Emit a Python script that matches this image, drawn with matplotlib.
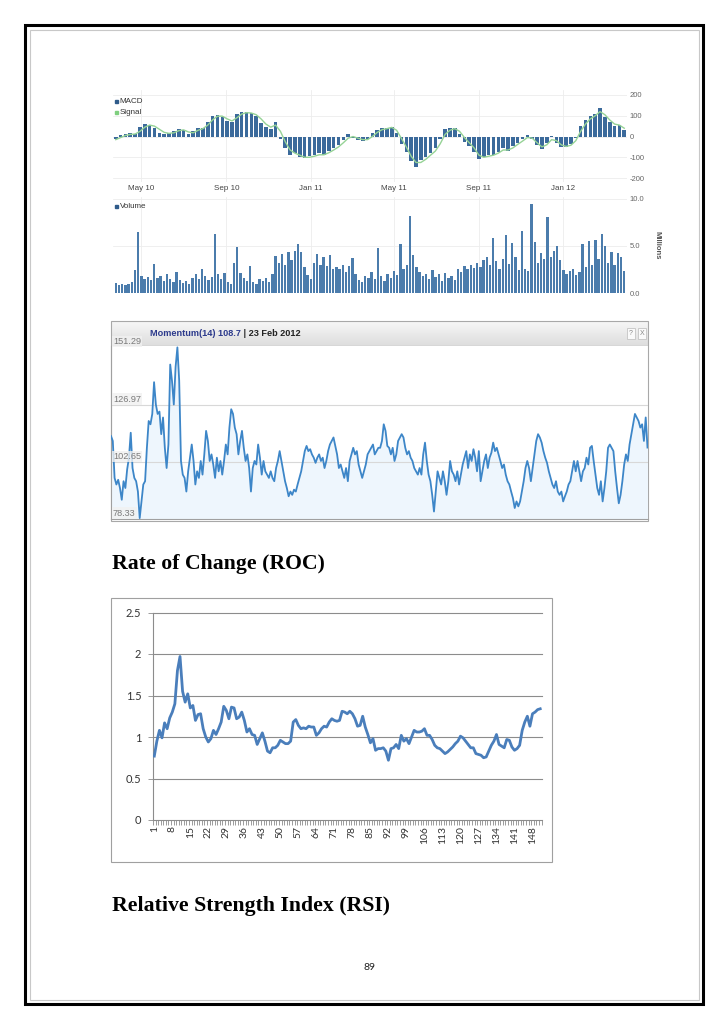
import matplotlib
matplotlib.use('Agg')
import matplotlib.pyplot as plt
import matplotlib.dates as mdates
from matplotlib.patches import Rectangle
import numpy as np
import pandas as pd

# ---------------- data ----------------
macd = [-10, 5, 12, 15, 12, 45, 60, 55, 40, 15,
        10, 15, 25, 35, 30, 10, 25, 40, 40, 70,
        100, 105, 95, 75, 70, 110, 118, 117, 112, 100,
        65, 45, 35, 70, -10, -55, -90, -80, -100, -105,
        -95, -90, -80, -90, -70, -55, -40, -15, 10, -5,
        -15, -20, -12, 15, 30, 40, 40, 48, 15, -35,
        -75, -120, -145, -115, -100, -80, -55, -10, 35, 40,
        40, 10, -25, -45, -75, -110, -100, -90, -90, -75,
        -55, -70, -45, -30, -12, 5, -10, -40, -62, -30,
        2, -30, -50, -50, -38, -5, 50, 80, 100, 110,
        135, 95, 70, 50, 55, 30]
signal = [-15, -5, 5, 10, 12, 25, 45, 55, 50, 35,
          20, 15, 18, 28, 32, 22, 18, 30, 38, 55,
          80, 98, 98, 85, 75, 90, 108, 115, 113, 105,
          85, 60, 45, 55, 25, -25, -65, -80, -90, -100,
          -100, -95, -88, -88, -78, -65, -50, -30, -8, 0,
          -8, -15, -15, 0, 20, 33, 38, 44, 30, -10,
          -50, -95, -125, -125, -110, -90, -70, -35, 10, 30,
          38, 25, -5, -30, -55, -90, -100, -95, -90, -80,
          -65, -65, -55, -38, -22, -5, -8, -30, -50, -40,
          -15, -20, -40, -48, -42, -20, 25, 60, 85, 100,
          120, 105, 80, 60, 55, 40]
macd_ticks = [200, 100, 0, -100, -200]

volume = [1.1, 0.9, 1.0, 0.8, 1.0, 1.2, 2.4, 6.5, 1.8, 1.5,
          1.7, 1.4, 3.1, 1.6, 1.8, 1.3, 2.0, 1.5, 1.2, 2.2,
          1.4, 1.1, 1.3, 1.0, 1.6, 2.0, 1.5, 2.6, 1.8, 1.4,
          1.7, 6.3, 2.0, 1.5, 2.1, 1.2, 1.0, 3.2, 4.9, 2.1,
          1.6, 1.3, 2.9, 1.2, 1.0, 1.5, 1.3, 1.6, 1.2, 2.0,
          3.9, 3.2, 4.1, 3.0, 4.4, 3.5, 4.5, 5.2, 4.4, 2.8,
          1.9, 1.5, 3.2, 4.2, 3.0, 3.8, 2.9, 4.0, 2.6, 2.8,
          2.5, 3.0, 2.2, 2.9, 3.7, 2.0, 1.4, 1.2, 1.8, 1.6,
          2.2, 1.5, 4.8, 1.8, 1.3, 2.0, 1.6, 2.3, 1.9, 5.2,
          2.5, 3.0, 8.2, 4.0, 2.8, 2.2, 1.8, 2.0, 1.5, 2.4,
          1.7, 2.0, 1.3, 2.1, 1.6, 1.8, 1.4, 2.6, 2.2, 2.9,
          2.5, 3.0, 2.7, 3.2, 2.8, 3.5, 3.8, 3.0, 5.8, 3.4,
          2.6, 3.6, 6.2, 3.1, 5.3, 3.8, 2.4, 6.6, 2.6, 2.3,
          9.5, 5.4, 3.2, 4.3, 3.6, 8.1, 3.8, 4.5, 5.0, 3.5,
          2.4, 2.0, 2.3, 2.6, 1.9, 2.2, 5.2, 2.8, 5.5, 3.0,
          5.6, 3.6, 6.3, 5.0, 3.2, 4.4, 3.0, 4.3, 3.8, 2.3]
vol_ticks = [10.0, 5.0, 0.0]

momentum = [113.6, 111.5, 95.8, 93.0, 95.0, 91.5, 86.5, 94.4, 91.5, 99.4,
            104.4, 115.0, 100.0, 95.8, 94.4, 90.0, 78.7, 85.8, 93.0, 94.4,
            108.6, 120.0, 118.6, 123.0, 136.5, 127.0, 123.0, 124.0, 114.4, 121.5,
            108.6, 100.0, 110.0, 144.0, 137.0, 127.0, 143.0, 151.3, 137.2, 103.0,
            97.2, 95.8, 90.0, 98.6, 104.4, 110.0, 103.0, 93.0, 98.6, 95.8,
            103.0, 97.2, 105.8, 115.8, 111.5, 103.0, 105.8, 101.5, 95.8, 104.4,
            98.6, 103.0, 97.2, 103.0, 110.0, 105.8, 117.2, 125.0, 123.0, 117.2,
            114.4, 105.8, 111.5, 115.8, 108.6, 103.0, 105.8, 100.0, 90.0, 100.0,
            103.0, 101.5, 110.0, 104.4, 97.2, 103.0, 98.6, 97.2, 95.8, 98.6,
            95.8, 94.4, 100.0, 103.0, 107.2, 103.0, 98.6, 94.4, 91.5, 88.0,
            90.0, 88.6, 90.8, 90.0, 93.0, 95.8, 98.6, 103.0, 107.2, 109.4,
            107.2, 108.0, 105.8, 104.4, 102.2, 104.4, 105.8, 103.0, 104.4, 100.0,
            103.0, 107.2, 110.0, 111.5, 113.0, 109.4, 105.8, 100.0, 101.5, 98.6,
            95.8, 100.0, 94.4, 103.0, 105.8, 108.6, 105.8, 107.2, 101.5, 98.6,
            95.8, 98.6, 101.5, 105.8, 107.2, 108.6, 110.0, 105.8, 107.2, 108.6,
            108.6, 111.5, 118.6, 115.8, 109.4, 108.6, 105.8, 108.6, 103.0, 105.8,
            111.5, 113.0, 114.4, 113.0, 108.6, 105.8, 107.2, 104.4, 103.0, 100.0,
            98.6, 97.2, 100.0, 97.2, 105.8, 110.8, 103.0, 97.2, 94.4, 88.6,
            81.5, 90.0, 98.6, 95.8, 93.0, 98.6, 94.4, 88.6, 94.4, 103.0,
            98.6, 97.2, 94.4, 98.6, 93.0, 97.2, 101.5, 104.4, 107.2, 100.0,
            105.8, 103.0, 108.0, 104.4, 98.6, 107.2, 94.4, 98.6, 103.0, 105.8,
            100.0, 104.4, 106.5, 110.8, 107.2, 108.6, 105.8, 103.0, 100.0, 101.5,
            97.2, 94.4, 93.0, 90.0, 87.2, 83.0, 85.8, 83.7, 85.8, 90.0,
            94.4, 100.0, 103.0, 100.0, 94.4, 100.0, 105.8, 111.5, 114.4, 113.0,
            110.8, 107.2, 104.4, 102.2, 98.6, 95.8, 93.0, 91.5, 94.4, 90.0,
            88.6, 90.0, 85.8, 88.0, 90.0, 93.0, 94.4, 98.6, 103.0, 98.6,
            103.0, 98.6, 94.4, 98.6, 100.0, 104.4, 101.5, 108.6, 109.4, 103.0,
            97.2, 91.5, 88.6, 94.4, 85.8, 91.5, 98.6, 108.6, 110.0, 108.6,
            107.2, 98.6, 91.5, 85.0, 88.6, 94.4, 101.5, 105.8, 103.0, 110.0,
            114.4, 118.6, 123.0, 121.5, 120.0, 117.2, 118.6, 111.5, 121.5, 108.7]
mom_levels = [151.29, 126.97, 102.65, 78.33]
mom_title_a = 'Momentum(14) 108.7'
mom_title_b = ' | 23 Feb 2012'

roc = [0.77, 0.95, 1.08, 0.99, 1.17, 1.10, 1.23, 1.30, 1.40, 1.80,
       1.97, 1.55, 1.42, 1.52, 1.35, 1.38, 1.20, 1.27, 1.28, 1.10,
       1.00, 0.94, 0.98, 1.08, 1.03, 1.10, 1.18, 1.37, 1.32, 1.22,
       1.36, 1.35, 1.22, 1.24, 1.30, 1.20, 1.06, 1.10, 1.03, 1.02,
       0.91, 0.98, 1.05, 0.95, 0.83, 0.81, 0.87, 0.87, 0.90, 0.96,
       0.94, 0.92, 0.92, 0.95, 1.18, 1.21, 1.14, 1.10, 1.11, 1.10,
       1.13, 1.12, 1.12, 1.02, 1.05, 1.10, 1.13, 1.12, 1.18, 1.22,
       1.20, 1.19, 1.20, 1.31, 1.30, 1.28, 1.31, 1.28, 1.22, 1.13,
       1.14, 1.25, 1.12, 1.03, 0.93, 0.98, 0.84, 0.86, 0.86, 0.87,
       0.83, 0.72, 0.86, 0.87, 0.91, 0.86, 1.02, 0.95, 0.98, 0.92,
       1.00, 1.08, 1.06, 1.06, 1.07, 1.10, 1.02, 1.02, 0.97, 0.90,
       0.87, 0.86, 0.83, 0.80, 0.82, 0.85, 0.88, 0.92, 0.95, 1.01,
       0.99, 0.95, 0.91, 0.87, 0.87, 0.80, 0.79, 0.78, 0.75, 0.76,
       0.83, 0.90, 0.95, 1.03, 0.91, 0.89, 0.87, 0.97, 0.96, 0.88,
       0.84, 0.86, 0.90, 1.08, 1.18, 1.25, 1.13, 1.28, 1.30, 1.33,
       1.34]
roc_ticks = [0, 0.5, 1, 1.5, 2, 2.5]
roc_tick_labels = ['0', '0.5', '1', '1.5', '2', '2.5']

# ---------------- figure ----------------
W, H = 728, 1031
fig = plt.figure(figsize=(W / 100, H / 100), dpi=100)


def rect(x0, y0, x1, y1):
    return [x0 / W, 1 - y1 / H, (x1 - x0) / W, (y1 - y0) / H]


def pixel_axes(z):
    a = fig.add_axes([0, 0, 1, 1], zorder=z)
    a.set_xlim(0, W)
    a.set_ylim(H, 0)
    a.axis('off')
    a.patch.set_alpha(0)
    return a


page = pixel_axes(0)
top = pixel_axes(10)

# page borders
page.add_patch(Rectangle((24.7, 24.7), 702.8 - 24.7, 1003.5 - 24.7, fill=False,
                         edgecolor='black', lw=2.2))
page.add_patch(Rectangle((29.5, 29.5), 699 - 29.5, 1000 - 29.5, fill=False,
                         edgecolor='#c8c8c8', lw=0.8))

gfont = ['Liberation Sans', 'DejaVu Sans']

# ---------------- MACD ----------------
start = pd.Timestamp('2010-03-25')
macd_dates = pd.date_range(start, periods=len(macd), freq='7D')
ax1 = fig.add_axes(rect(113, 90, 627, 182), zorder=2)
ax1.bar(macd_dates, macd, width=5.2, color='#3b6a9b', linewidth=0, zorder=2)
ax1.plot(macd_dates, signal, color='#96d396', lw=1.0, zorder=3)
ax1.set_xlim(start - pd.Timedelta(days=4), macd_dates[-1] + pd.Timedelta(days=4))
ax1.set_ylim(-219, 224)
ax1.set_yticks(macd_ticks)
ax1.set_yticklabels([str(t) for t in macd_ticks])
ax1.yaxis.tick_right()
ax1.xaxis.set_major_locator(mdates.MonthLocator(bymonth=[1, 5, 9]))
ax1.xaxis.set_major_formatter(mdates.DateFormatter('%b %y'))
ax1.tick_params(axis='both', length=0, labelsize=5.8, labelcolor='#444444', pad=2)
ax1.tick_params(axis='y', pad=2, labelcolor='#666666', labelsize=5.5)
for lab in ax1.get_xticklabels() + ax1.get_yticklabels():
    lab.set_family(gfont)
ax1.grid(True, color='#ededed', lw=0.6, zorder=0)
ax1.set_axisbelow(True)
for s in ax1.spines.values():
    s.set_visible(False)
ax1.patch.set_alpha(0)

top.add_patch(Rectangle((115, 99.5), 3.2, 3.2, color='#2f5b8a'))
top.text(119.5, 101.2, 'MACD', fontsize=5.8, va='center', color='#333333', family=gfont)
top.add_patch(Rectangle((115, 110.5), 3.2, 3.2, color='#7fcf7f'))
top.text(119.5, 112.2, 'Signal', fontsize=5.8, va='center', color='#333333', family=gfont)

# ---------------- Volume ----------------
vol_dates = pd.date_range(start, macd_dates[-1], periods=len(volume))
ax2 = fig.add_axes(rect(113, 197, 627, 293), zorder=2)
ax2.bar(vol_dates, volume, width=3.4, color='#4b7cac', linewidth=0, zorder=2)
ax2.set_xlim(ax1.get_xlim())
ax2.set_ylim(0, 10.21)
ax2.set_yticks(vol_ticks)
ax2.set_yticklabels(['%.1f' % v for v in vol_ticks])
ax2.yaxis.tick_right()
ax2.xaxis.set_major_locator(mdates.MonthLocator(bymonth=[1, 5, 9]))
ax2.set_xticklabels([])
ax2.tick_params(axis='both', length=0, labelsize=5.5, labelcolor='#666666', pad=2)
for lab in ax2.get_yticklabels():
    lab.set_family(gfont)
ax2.grid(True, color='#ededed', lw=0.6, zorder=0)
ax2.set_axisbelow(True)
for s in ax2.spines.values():
    s.set_visible(False)
ax2.patch.set_alpha(0)
top.add_patch(Rectangle((115, 204.5), 3.2, 3.2, color='#2f5b8a'))
top.text(119.5, 206.2, 'Volume', fontsize=5.8, va='center', color='#333333', family=gfont)
top.text(657, 245, 'Millions', fontsize=5.5, rotation=-90, va='center', ha='center',
         color='#555555', fontweight='bold', family=gfont)

# ---------------- Momentum ----------------
grad = np.linspace(0, 1, 50).reshape(-1, 1)
page.imshow(grad, extent=[111, 647.5, 345, 321],
            cmap=matplotlib.colors.LinearSegmentedColormap.from_list('hdr', ['#f7f7f7', '#dedede']),
            aspect='auto', zorder=1)
page.plot([111, 647.5], [345, 345], color='#d0d0d0', lw=0.6, zorder=2)
page.add_patch(Rectangle((110.5, 320.5), 648 - 110.5, 521 - 320.5, fill=False,
                         edgecolor='#a8a8a8', lw=0.8, zorder=3))
t_a = top.text(150, 333.5, mom_title_a, fontsize=6.6, color='#2c3a8c', va='center',
               family=gfont, fontweight='bold')
fig.canvas.draw()
bb = t_a.get_window_extent(renderer=fig.canvas.get_renderer())
x_after = bb.x1  # display px equals figure px here
top.text(x_after, 333.5, mom_title_b, fontsize=6.6, color='#222222', va='center',
         family=gfont, fontweight='bold')
for bx, ch in [(626.5, '?'), (638, 'X')]:
    top.add_patch(Rectangle((bx, 327.5), 8, 11, facecolor='#fafafa', edgecolor='#c4c4c4', lw=0.6))
    top.text(bx + 4, 333.2, ch, fontsize=5, color='#888888', ha='center', va='center', family=gfont)

ax3 = fig.add_axes(rect(111, 345.5, 647.5, 519), zorder=2)
xm = np.arange(len(momentum))
ax3.fill_between(xm, momentum, mom_levels[-1], color='#eef6fd', lw=0, zorder=1)
ax3.plot(xm, momentum, color='#3d86c8', lw=1.3, zorder=3)
ax3.set_xlim(0, len(momentum) - 1)
ax3.set_ylim(mom_levels[-1], 152.1)
for lv in mom_levels[1:3]:
    ax3.axhline(lv, color='#d8d8d8', lw=0.8, zorder=2)
ax3.set_xticks([])
ax3.set_yticks([])
for s in ax3.spines.values():
    s.set_visible(False)
for s in ['left', 'bottom']:
    ax3.spines[s].set_visible(True)
    ax3.spines[s].set_color('#a0a0a0')
ax3.patch.set_alpha(0)

label_y = {151.29: 341.5, 126.97: 399, 102.65: 456.5, 78.33: 513}
for lv in mom_levels:
    top.text(113, label_y[lv], '%.2f' % lv, fontsize=6.6, color='#7a7a7a', va='center',
             family=gfont,
             bbox=dict(boxstyle='square,pad=0.12', facecolor='#f1f1f1', edgecolor='none', alpha=0.8))

# ---------------- ROC heading ----------------
page.text(112, 568.5, 'Rate of Change (ROC)', fontsize=15.7, fontweight='bold',
          family=['Liberation Serif', 'DejaVu Serif'], va='baseline', color='black')

# ---------------- ROC chart ----------------
page.add_patch(Rectangle((110.5, 597.5), 552 - 110.5, 862 - 597.5, fill=False,
                         edgecolor='#a0a0a0', lw=0.8))
ax4 = fig.add_axes(rect(153, 612.5, 541.5, 820), zorder=2)
xr = np.arange(1, len(roc) + 1)
ax4.plot(xr, roc, color='#4a7ebb', lw=2.0, zorder=3, solid_joinstyle='round')
ax4.set_xlim(0.5, len(roc) + 0.5)
ax4.set_ylim(0, 2.5)
for t in roc_ticks[1:]:
    ax4.axhline(t, color='#8c8c8c', lw=0.8, zorder=1, clip_on=False)
ax4.set_yticks(roc_ticks)
ax4.set_yticklabels(roc_tick_labels)
ax4.set_xticks(xr[::7])
ax4.set_xticklabels([str(v) for v in xr[::7]], rotation=90)
ax4.set_xticks(np.arange(0.5, len(roc) + 1, 1), minor=True)
ax4.tick_params(axis='x', which='major', length=0, labelsize=7.5, labelcolor='#333333', pad=4.5)
ax4.tick_params(axis='x', which='minor', length=3.5, color='#8c8c8c', width=0.6)
ax4.tick_params(axis='y', length=3.5, color='#8c8c8c', width=0.6, labelsize=8,
                labelcolor='#333333', pad=5)
for lab in ax4.get_xticklabels() + ax4.get_yticklabels():
    lab.set_family(['Lato', 'DejaVu Sans'])
for s in ['top', 'right']:
    ax4.spines[s].set_visible(False)
for s in ['left', 'bottom']:
    ax4.spines[s].set_color('#8c8c8c')
    ax4.spines[s].set_linewidth(0.8)
ax4.patch.set_alpha(0)

# ---------------- RSI heading + page number ----------------
page.text(112, 910.5, 'Relative Strength Index (RSI)', fontsize=15.7, fontweight='bold',
          family=['Liberation Serif', 'DejaVu Serif'], va='baseline', color='black')
page.text(369, 968, '89', fontsize=7.5, ha='center', va='center', color='#222222',
          family=['Lato', 'DejaVu Sans'])

fig.savefig('out.png', dpi=100)
